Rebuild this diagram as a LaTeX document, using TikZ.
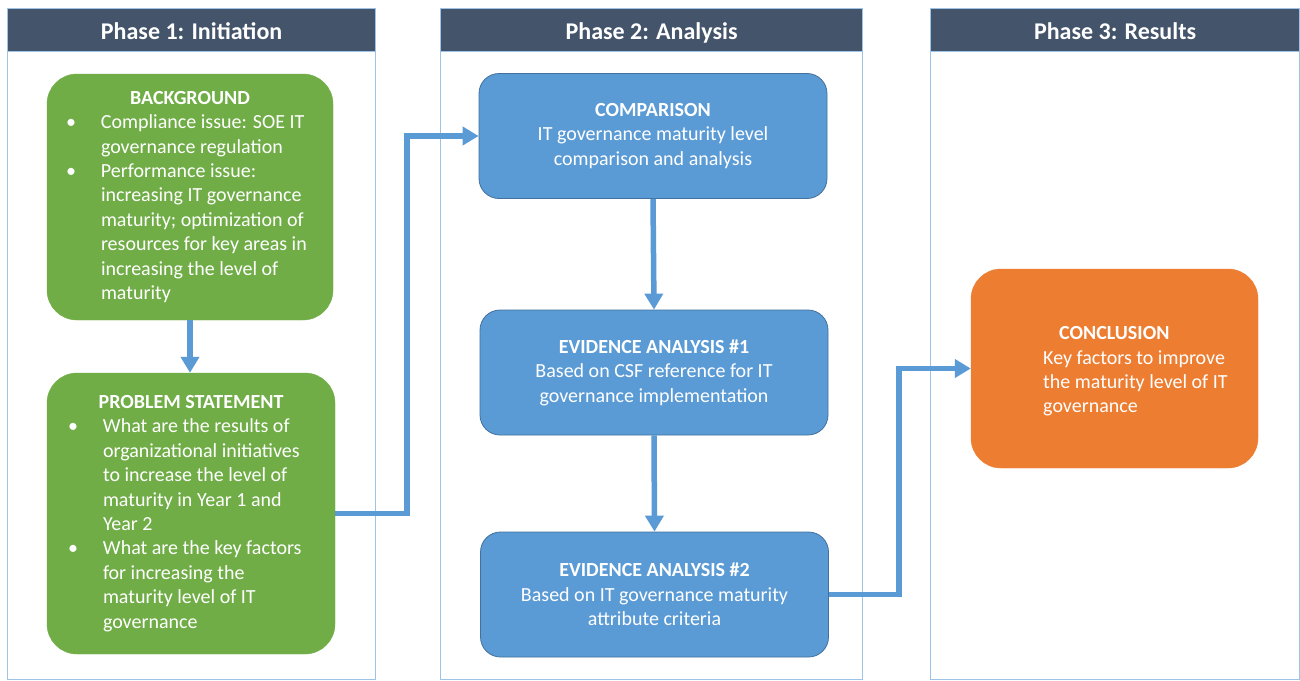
\documentclass[tikz,border=0pt]{standalone}
\usepackage{fontspec}
\setmainfont{Carlito}
\usetikzlibrary{arrows.meta}
\definecolor{hdr}{HTML}{44546A}
\definecolor{grn}{HTML}{70AD47}
\definecolor{blu}{HTML}{5B9BD5}
\definecolor{bluedge}{HTML}{41719C}
\definecolor{org}{HTML}{ED7D31}
\definecolor{colline}{HTML}{9DC3E6}
\newcommand{\bodyfont}{\fontsize{20}{24.4}\selectfont}
\newcommand{\bul}{\makebox[33pt][l]{\hspace{-2pt}\textbullet}}
\newcommand{\ind}{\hspace*{33pt}}
\begin{document}
\begin{tikzpicture}[x=1pt,y=-1pt,
  column/.style={draw=colline, line width=1.2pt, fill=white, inner sep=0, anchor=north west},
  header/.style={fill=hdr, draw=colline, line width=1.2pt, text=white, inner sep=0, anchor=north west,
    text height=18pt, text depth=0pt, font=\fontsize{24}{29}\selectfont\bfseries},
  gbox/.style={fill=grn, draw=grn, rounded corners=30pt, text=white, align=left, inner sep=0, font=\bodyfont},
  bbox/.style={fill=blu, draw=bluedge, line width=0.8pt, rounded corners=20pt, text=white, align=center,
    inner sep=0, minimum width=348pt, minimum height=125pt, font=\bodyfont},
  obox/.style={fill=org, draw=org, rounded corners=30pt, inner sep=0},
  txt/.style={text=white, align=left, inner sep=0, font=\bodyfont},
  arr/.style={draw=blu, line width=5.5pt, -{Triangle[width=18pt,length=16pt]}}
]
\useasboundingbox (0,0) rectangle (1300,680);
\fill[white] (0,0) rectangle (1300,680);

% columns
\node[column, minimum width=368pt, minimum height=671pt] (c1) at (7,8) {};
\node[column, minimum width=422pt, minimum height=671pt] (c2) at (440,8) {};
\node[column, minimum width=369pt, minimum height=671pt] (c3) at (930,8) {};
\node[header, minimum width=368pt, minimum height=43pt] (h1) at (7,8) {Phase 1: Initiation};
\node[header, minimum width=422pt, minimum height=43pt] (h2) at (440,8) {Phase 2: Analysis};
\node[header, minimum width=369pt, minimum height=43pt] (h3) at (930,8) {Phase 3: Results};

% Phase 1
\node[gbox, minimum width=286pt, minimum height=246pt] (bg) at (190,197) {%
\makebox[244pt]{\bfseries BACKGROUND}\\
\bul Compliance issue: SOE IT\\
\ind governance regulation\\
\bul Performance issue:\\
\ind increasing IT governance\\
\ind maturity; optimization of\\
\ind resources for key areas in\\
\ind increasing the level of\\
\ind maturity};
\node[gbox, minimum width=288pt, minimum height=281pt] (ps) at (191,513.5) {%
\makebox[242pt]{\bfseries PROBLEM STATEMENT}\\
\bul What are the results of\\
\ind organizational initiatives\\
\ind to increase the level of\\
\ind maturity in Year 1 and\\
\ind Year 2\\
\bul What are the key factors\\
\ind for increasing the\\
\ind maturity level of IT\\
\ind governance};

% Phase 2
\node[bbox] (comp) at (653,136) {\textbf{COMPARISON}\\IT governance maturity level\\comparison and analysis};
\node[bbox] (ea1) at (654,372.5) {\textbf{EVIDENCE ANALYSIS \#1}\\Based on CSF reference for IT\\governance implementation};
\node[bbox] (ea2) at (654.5,594.5) {\textbf{EVIDENCE ANALYSIS \#2}\\Based on IT governance maturity\\attribute criteria};

% Phase 3
\node[obox, minimum width=287pt, minimum height=199pt] (concl) at (1114.5,368.5) {};
\node[txt, anchor=west] (concltxt) at (1043,371.5) {%
\hspace*{16pt}\textbf{CONCLUSION}\\
Key factors to improve\\
the maturity level of IT\\
governance};

% connectors
\draw[arr] (bg.south) -- (bg.south |- ps.north);
\draw[arr] (ps.east) -- ++(72,0) |- (comp.west);
\draw[arr] (comp.south) -- (ea1.north);
\draw[arr] (ea1.south) -- (ea2.north);
\draw[arr] (ea2.east) -- ++(70,0) |- (concl.west);
\end{tikzpicture}
\end{document}
